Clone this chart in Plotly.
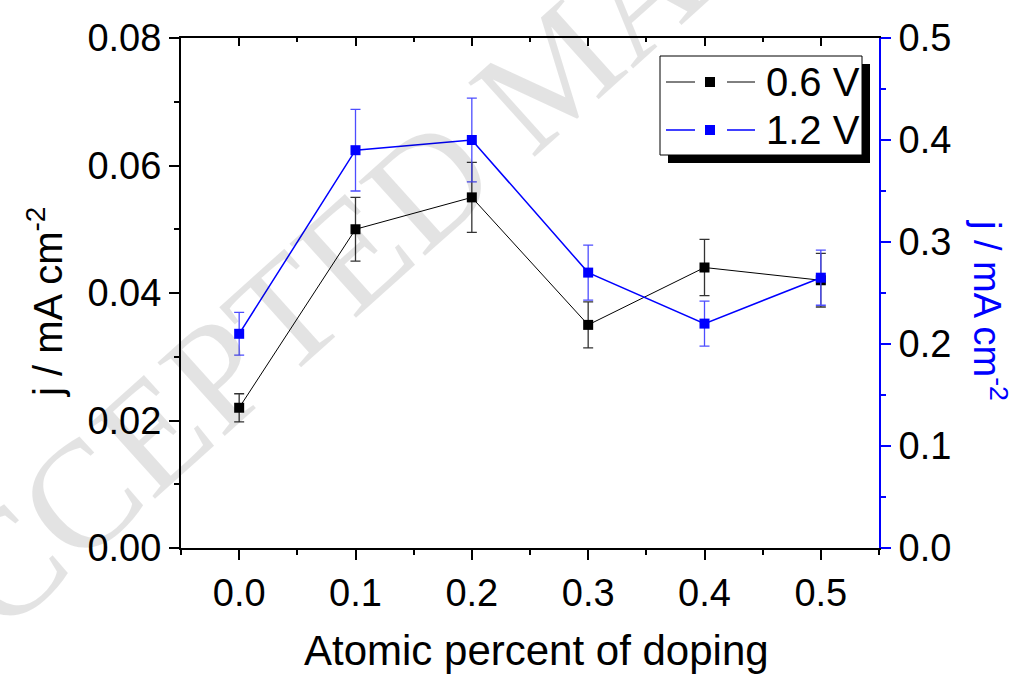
import plotly.graph_objects as go

# ---- data ----
doping = [0.0, 0.1, 0.2, 0.3, 0.4, 0.5]
j_06V = [0.022, 0.050, 0.055, 0.035, 0.044, 0.042]
j_06V_err = [0.0022, 0.005, 0.0055, 0.0036, 0.0044, 0.0042]
j_12V = [0.21, 0.39, 0.40, 0.27, 0.22, 0.265]
j_12V_err = [0.021, 0.04, 0.041, 0.027, 0.022, 0.027]
legend_labels = ["0.6 V", "1.2 V"]

FONT = "Liberation Sans, Arial, Helvetica, sans-serif"
BLUE = "#0000ff"

# plot-area geometry (pixels) used for layout helpers
L, R, T, B = 181, 879, 38, 548
W, H = 1024, 675
def px(p):
    return (p - L) / (R - L)
def py(p):
    return (B - p) / (B - T)

fig = go.Figure()

fig.add_trace(go.Scatter(
    x=doping, y=j_06V, mode="lines+markers", name=legend_labels[0],
    line=dict(color="black", width=1),
    marker=dict(symbol="square", size=10, color="black"),
    error_y=dict(type="data", array=j_06V_err, visible=True,
                 color="#333333", thickness=1.3, width=5),
    showlegend=False, xaxis="x", yaxis="y"))

fig.add_trace(go.Scatter(
    x=doping, y=j_12V, mode="lines+markers", name=legend_labels[1],
    line=dict(color=BLUE, width=1.5),
    marker=dict(symbol="square", size=10, color=BLUE),
    error_y=dict(type="data", array=j_12V_err, visible=True,
                 color="#4d4dff", thickness=1.3, width=5),
    showlegend=False, xaxis="x", yaxis="y2"))

# dummy trace so top mirrored axis is rendered
fig.add_trace(go.Scatter(x=[None], y=[None], xaxis="x2", yaxis="y",
                         showlegend=False, hoverinfo="skip"))

tickfont = dict(family=FONT, size=38, color="black")

fig.update_layout(
    width=W, height=H, autosize=False,
    margin=dict(l=L, r=W - R, t=T, b=H - B),
    paper_bgcolor="white", plot_bgcolor="white",
    xaxis=dict(range=[-0.05, 0.55], tick0=0, dtick=0.1, tickformat=".1f",
               showline=True, linecolor="black", linewidth=2,
               ticks="outside", ticklen=10, tickwidth=2, tickcolor="black",
               minor=dict(tick0=0, dtick=0.05, ticks="outside", ticklen=5,
                          tickwidth=2, tickcolor="black"),
               showgrid=False, zeroline=False, tickfont=tickfont),
    xaxis2=dict(range=[-0.05, 0.55], overlaying="x", side="top",
                tick0=0, dtick=0.1, showticklabels=False,
                showline=True, linecolor="black", linewidth=2,
                ticks="inside", ticklen=8, tickwidth=2, tickcolor="black",
                minor=dict(tick0=0, dtick=0.05, ticks="inside", ticklen=4,
                           tickwidth=2, tickcolor="black"),
                showgrid=False, zeroline=False),
    yaxis=dict(range=[0, 0.08], tick0=0, dtick=0.02, tickformat=".2f",
               showline=True, linecolor="black", linewidth=2,
               ticks="outside", ticklen=10, tickwidth=2, tickcolor="black",
               minor=dict(tick0=0, dtick=0.01, ticks="outside", ticklen=5,
                          tickwidth=2, tickcolor="black"),
               showgrid=False, zeroline=False, tickfont=tickfont),
    yaxis2=dict(range=[0, 0.5], tick0=0, dtick=0.1, tickformat=".1f",
                overlaying="y", side="right",
                showline=True, linecolor=BLUE, linewidth=2,
                ticks="outside", ticklen=10, tickwidth=2, tickcolor=BLUE,
                minor=dict(tick0=0, dtick=0.05, ticks="outside", ticklen=5,
                           tickwidth=2, tickcolor=BLUE),
                showgrid=False, zeroline=False, tickfont=tickfont),
)

def ann(text, x, y, size, color="black", angle=0, xanchor="center",
        family=FONT):
    return dict(text=text, xref="paper", yref="paper", x=x, y=y,
                xanchor=xanchor, yanchor="middle", showarrow=False,
                textangle=angle, font=dict(family=family, size=size, color=color))

annotations = []
# watermark
annotations.append(ann("ACCEPTED MANUSCRIPT", px(555), py(70), 152,
                       color="rgba(0,0,0,0.11)", angle=-42,
                       family="Liberation Serif, Times New Roman, serif"))
# axis titles
annotations.append(ann("Atomic percent of doping", px(536), py(650), 42))
annotations.append(ann("j / mA cm<sup>-2</sup>", px(45), py(302), 40, angle=-90))
annotations.append(ann("j / mA cm<sup>-2</sup>", px(990), py(310), 38,
                       color=BLUE, angle=90))

# manual legend
shapes = []
shapes.append(dict(type="rect", xref="paper", yref="paper", layer="above",
                   x0=px(668), x1=px(870), y0=py(64), y1=py(163),
                   fillcolor="black", line=dict(width=0)))
shapes.append(dict(type="rect", xref="paper", yref="paper", layer="above",
                   x0=px(660), x1=px(862), y0=py(56), y1=py(155),
                   fillcolor="white", line=dict(color="black", width=1)))
rows = [(82, "black", 1), (130, BLUE, 1.5)]
for (yy, col, lw), lab in zip(rows, legend_labels):
    shapes.append(dict(type="line", xref="paper", yref="paper", layer="above",
                       x0=px(666), x1=px(695), y0=py(yy), y1=py(yy),
                       line=dict(color=col, width=lw)))
    shapes.append(dict(type="line", xref="paper", yref="paper", layer="above",
                       x0=px(727), x1=px(755), y0=py(yy), y1=py(yy),
                       line=dict(color=col, width=lw)))
    shapes.append(dict(type="rect", xref="paper", yref="paper", layer="above",
                       x0=px(705), x1=px(715), y0=py(yy - 5), y1=py(yy + 5),
                       fillcolor=col, line=dict(width=0)))
    annotations.append(ann(lab, px(764), py(yy), 40, xanchor="left"))

fig.update_layout(annotations=annotations, shapes=shapes)

fig.write_html("out.html")
